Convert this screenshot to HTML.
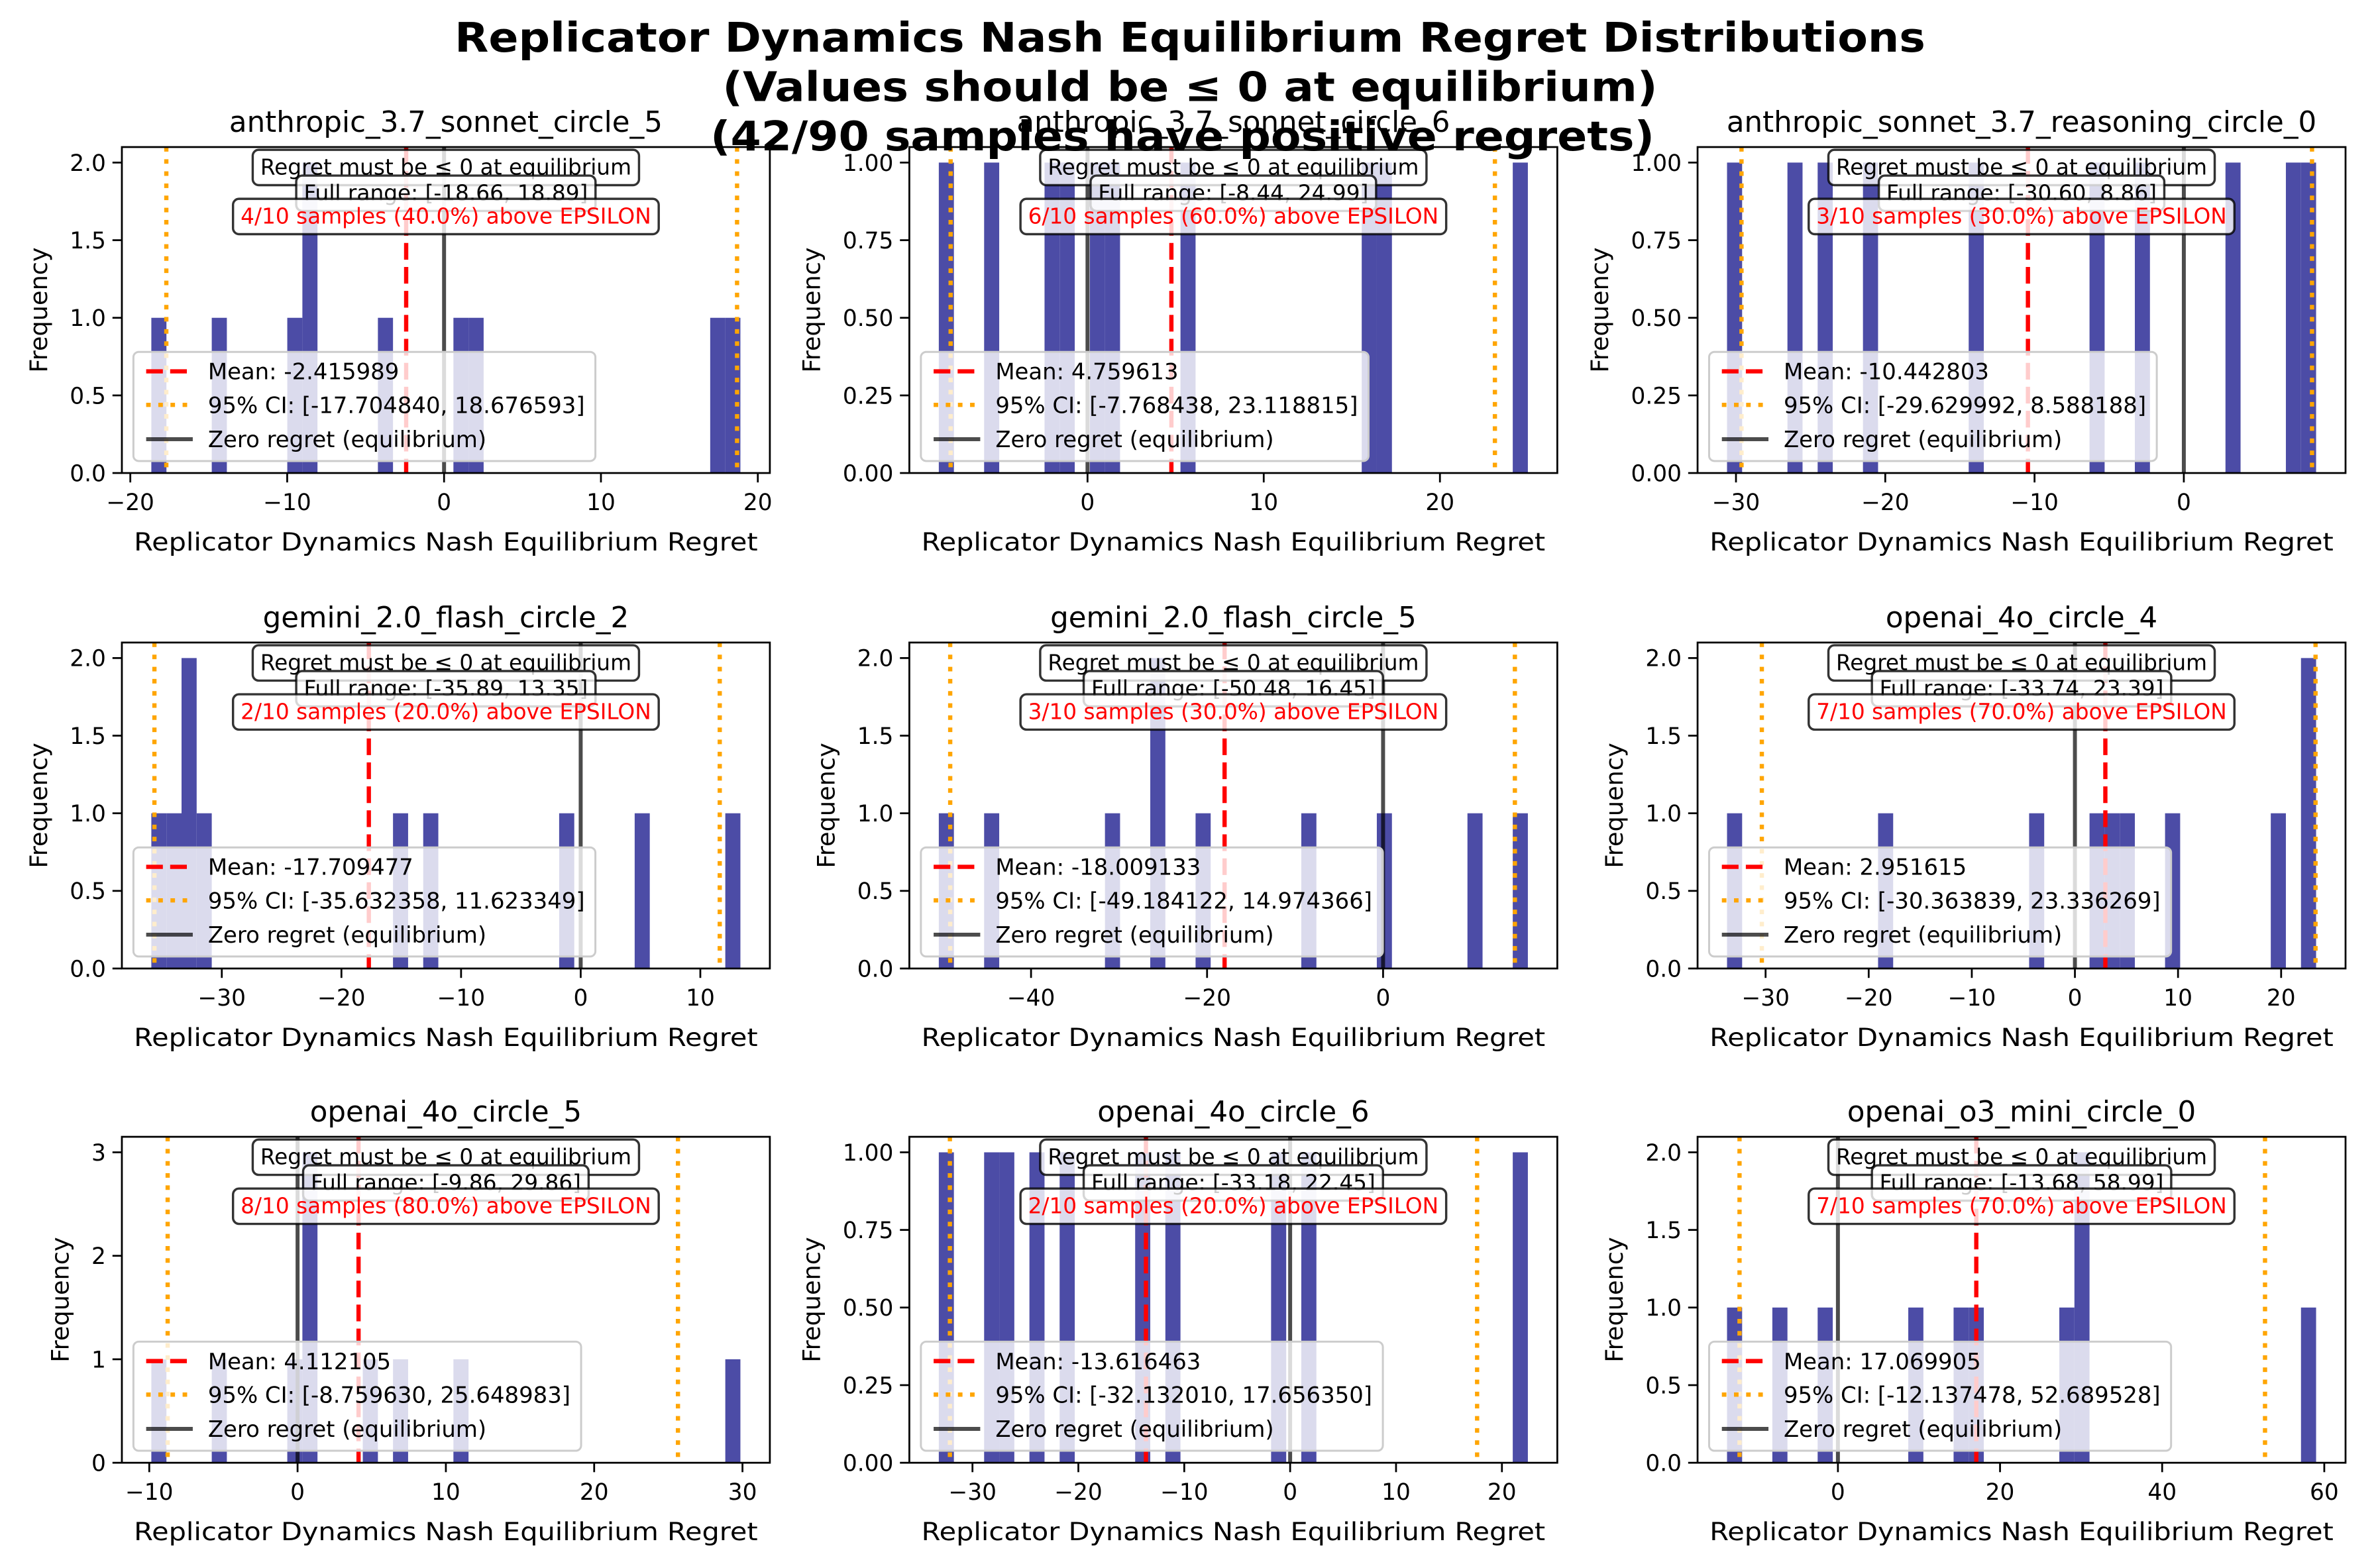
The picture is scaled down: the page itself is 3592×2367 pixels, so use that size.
<!DOCTYPE html>
<html><head><meta charset="utf-8"><style>
html,body{margin:0;padding:0;background:#fff;}
svg{display:block;font-family:"DejaVu Sans","Liberation Sans",sans-serif;}
</style></head><body>
<svg id="fig" width="3592" height="2367" viewBox="0 0 1568 1033.25" xmlns="http://www.w3.org/2000/svg">
<rect x="0" y="0" width="1568" height="1033.25" fill="#fff"/>
<g id="panels"></g>
<text x="784" y="34" text-anchor="middle" font-weight="bold" font-size="27" textLength="969" lengthAdjust="spacingAndGlyphs">Replicator Dynamics Nash Equilibrium Regret Distributions</text>
<text x="784" y="66.5" text-anchor="middle" font-weight="bold" font-size="27" textLength="616" lengthAdjust="spacingAndGlyphs">(Values should be ≤ 0 at equilibrium)</text>
<text x="779" y="99" text-anchor="middle" font-weight="bold" font-size="27" textLength="622" lengthAdjust="spacingAndGlyphs">(42/90 samples have positive regrets)</text>
</svg>
<script>
// ---- data ----
const titles = ["anthropic_3.7_sonnet_circle_5","anthropic_3.7_sonnet_circle_6","anthropic_sonnet_3.7_reasoning_circle_0","gemini_2.0_flash_circle_2","gemini_2.0_flash_circle_5","openai_4o_circle_4","openai_4o_circle_5","openai_4o_circle_6","openai_o3_mini_circle_0"];
const samples1 = [-18.66,-14.44,-9.57,-8.6,-8.6,-3.76,1.08,2.10,17.6,18.89];
const samples2 = [-8.44,-5.52,-2.04,-1.18,0.55,1.41,5.73,16.1,17.0,24.99];
const samples3 = [-30.60,-26.3,-24.26,-21.2,-14.07,-5.89,-2.83,3.34,7.42,8.86];
const samples4 = [-35.89,-34.4,-33.07,-33.07,-31.76,-15.2,-12.67,-1.2,5.15,13.35];
const samples5 = [-50.48,-44.9,-31.08,-25.85,-25.85,-20.67,-8.54,0.1,10.5,16.45];
const samples6 = [-33.74,-18.49,-3.76,2.12,3.63,5.14,9.55,19.88,23.39,23.39];
const samples7 = [-9.86,-5.33,0.1,0.83,0.83,0.83,4.96,7.0,11.17,29.86];
const samples8 = [-33.18,-28.37,-26.9,-24.06,-21.2,-13.98,-11.1,-1.08,1.79,22.45];
const samples9 = [-13.68,-7.19,-1.56,9.69,15.36,17.24,28.5,30.4,30.4,58.99];
const means = [-2.415989,4.759613,-10.442803,-17.709477,-18.009133,2.951615,4.112105,-13.616463,17.069905];
const ciLo = [-17.704840,-7.768438,-29.629992,-35.632358,-49.184122,-30.363839,-8.759630,-32.132010,-12.137478];
const ciHi = [18.676593,23.118815,8.588188,11.623349,14.974366,23.336269,25.648983,17.656350,52.689528];
const xTicks1 = [-20,-10,0,10,20];
const xTicks2 = [0,10,20];
const xTicks3 = [-30,-20,-10,0];
const xTicks4 = [-30,-20,-10,0,10];
const xTicks5 = [-40,-20,0];
const xTicks6 = [-30,-20,-10,0,10,20];
const xTicks7 = [-10,0,10,20,30];
const xTicks8 = [-30,-20,-10,0,10,20];
const xTicks9 = [0,20,40,60];
const yTicks1 = [0,0.5,1,1.5,2];
const yTicks2 = [0,0.25,0.5,0.75,1];
const yTicks3 = [0,0.25,0.5,0.75,1];
const yTicks4 = [0,0.5,1,1.5,2];
const yTicks5 = [0,0.5,1,1.5,2];
const yTicks6 = [0,0.5,1,1.5,2];
const yTicks7 = [0,1,2,3];
const yTicks8 = [0,0.25,0.5,0.75,1];
const yTicks9 = [0,0.5,1,1.5,2];
const yDecimals = [1,2,2,1,1,1,0,2,1];
const nBins = 39;
const epsilon = 1e-6;

const allSamples=[samples1,samples2,samples3,samples4,samples5,samples6,samples7,samples8,samples9];
const allX=[xTicks1,xTicks2,xTicks3,xTicks4,xTicks5,xTicks6,xTicks7,xTicks8,xTicks9];
const allY=[yTicks1,yTicks2,yTicks3,yTicks4,yTicks5,yTicks6,yTicks7,yTicks8,yTicks9];

// ---- layout ----
const NS="http://www.w3.org/2000/svg";
const colX=[80.3,599.1,1118.4], rowY=[96.9,423.4,749.1], AW=426.9, AH=214.8;
const root=document.getElementById('panels');
function mk(tag,attrs,parent){const e=document.createElementNS(NS,tag);for(const k in attrs)e.setAttribute(k,attrs[k]);(parent||root).appendChild(e);return e;}
function fmtTick(v,d){const s=Math.abs(v).toFixed(d);return (v<0?"\u2212":"")+s;}

for(let p=0;p<9;p++){
  const L=colX[p%3], T=rowY[Math.floor(p/3)], B=T+AH, R=L+AW;
  const data=allSamples[p];
  const dmin=Math.min(...data), dmax=Math.max(...data);
  const lo=Math.min(dmin,ciLo[p],0), hi=Math.max(dmax,ciHi[p],0);
  const xl=lo-0.05*(hi-lo), xh=hi+0.05*(hi-lo);
  const bw=(dmax-dmin)/nBins;
  const counts=new Array(nBins).fill(0);
  data.forEach(v=>{let i=Math.floor((v-dmin)/bw);if(i>=nBins)i=nBins-1;if(i<0)i=0;counts[i]++;});
  const ymax=Math.max(...counts)*1.05;
  const X=v=>L+(v-xl)/(xh-xl)*AW;
  const Y=v=>B-v/ymax*AH;
  const g=mk('g',{});
  
  
  const clipId='clip'+p;
  const cp=mk('clipPath',{id:clipId},g); mk('rect',{x:L,y:T,width:AW,height:AH},cp);
  const plot=mk('g',{'clip-path':'url(#'+clipId+')'},g);
  counts.forEach((c,i)=>{ if(!c) return;
    const x0=X(dmin+i*bw), x1=X(dmin+(i+1)*bw);
    const r=mk('rect',{x:x0,y:Y(c),width:x1-x0,height:B-Y(c),fill:'#4c4ca6'},plot);
    
    
  });
  const ml=mk('line',{x1:X(means[p]),x2:X(means[p]),y1:T,y2:B,stroke:'#ff0000','stroke-width':2.8,'stroke-dasharray':'11 4.8'},plot);
   
  [ciLo[p],ciHi[p]].forEach(v=>{
    const cl=mk('line',{x1:X(v),x2:X(v),y1:T,y2:B,stroke:'#ffa500','stroke-width':2.8,'stroke-dasharray':'3 5'},plot);
     
  });
  const zl=mk('line',{x1:X(0),x2:X(0),y1:T,y2:B,stroke:'#000','stroke-opacity':0.7,'stroke-width':2.6},plot);
   
  const sp=mk('rect',{x:L,y:T,width:AW,height:AH,fill:'none',stroke:'#000','stroke-width':1.2},g);
   
  allX[p].forEach(v=>{
    const x=X(v);
    mk('line',{x1:x,x2:x,y1:B,y2:B+6.2,stroke:'#000','stroke-width':1.2},g);
    const t=mk('text',{x:x,y:B+24.5,'text-anchor':'middle','font-size':15},g);
    t.textContent=fmtTick(v,0);
     
  });
  let maxW=0;
  allY[p].forEach(v=>{
    const y=Y(v);
    mk('line',{x1:L-6.2,x2:L,y1:y,y2:y,stroke:'#000','stroke-width':1.2},g);
    const t=mk('text',{x:L-10.5,y:y+5.4,'text-anchor':'end','font-size':15},g);
    t.textContent=fmtTick(v,yDecimals[p]);
     
    maxW=Math.max(maxW,t.getComputedTextLength());
  });
  const yl=L-10.5-maxW-15;
  const ylab=mk('text',{x:yl,y:T+AH/2,'text-anchor':'middle','font-size':16,transform:'rotate(-90 '+yl+' '+(T+AH/2)+')'},g);
  ylab.textContent='Frequency';
   
  const xlab=mk('text',{x:L+AW/2,y:B+51,'text-anchor':'middle','font-size':16.5,textLength:411,lengthAdjust:'spacingAndGlyphs'},g);
  xlab.textContent='Replicator Dynamics Nash Equilibrium Regret';
   
  const tt=mk('text',{x:L+AW/2,y:T-10,'text-anchor':'middle','font-size':19},g);
  tt.textContent=titles[p];
   
  const lg=mk('g',{},g);
   
  const lbox=mk('rect',{x:L+7.6,y:B-79.8,width:300,height:71.9,rx:3.5,fill:'#fff','fill-opacity':0.8,stroke:'#cccccc','stroke-width':1.3},lg);
  const labels=['Mean: '+means[p].toFixed(6),'95% CI: ['+ciLo[p].toFixed(6)+', '+ciHi[p].toFixed(6)+']','Zero regret (equilibrium)'];
  const rows=[B-67,B-44.9,B-22.3];
  let lw=0;
  labels.forEach((s,i)=>{
    const yy=rows[i];
    if(i==0) mk('line',{x1:L+16,x2:L+46.7,y1:yy,y2:yy,stroke:'#ff0000','stroke-width':2.8,'stroke-dasharray':'11 4.8'},lg);
    if(i==1) mk('line',{x1:L+16,x2:L+46.7,y1:yy,y2:yy,stroke:'#ffa500','stroke-width':2.8,'stroke-dasharray':'3 5'},lg);
    if(i==2) mk('line',{x1:L+16,x2:L+46.7,y1:yy,y2:yy,stroke:'#000','stroke-opacity':0.7,'stroke-width':2.6},lg);
    const t=mk('text',{x:L+56.7,y:yy+5.3,'font-size':14.8},lg);
    t.textContent=s;
     
    lw=Math.max(lw,t.getComputedTextLength());
  });
  lbox.setAttribute('width',56.7+lw+7-7.6);
  const npos=data.filter(v=>v>epsilon).length;
  const boxTexts=['Regret must be \u2264 0 at equilibrium','Full range: ['+dmin.toFixed(2)+', '+dmax.toFixed(2)+']',npos+'/'+data.length+' samples ('+(100*npos/data.length).toFixed(1)+'%) above EPSILON'];
  const boxTop=[T+1.8,T+18.8,T+34.1];
  const boxNames=['equilibrium-note-box','full-range-box','positive-count-box'];
  boxTexts.forEach((s,i)=>{
    const bg=mk('g',{},g);
     
    const r=mk('rect',{x:0,y:boxTop[i],height:23.3,rx:4,fill:'#fff','fill-opacity':0.8,stroke:'#000','stroke-opacity':0.8,'stroke-width':1.5},bg);
    const t=mk('text',{x:L+AW/2,y:boxTop[i]+16.4,'text-anchor':'middle','font-size':14.3,fill:i==2?'#ff0000':'#000'},bg);
    t.textContent=s;
    const w=t.getComputedTextLength()+10;
    r.setAttribute('x',L+AW/2-w/2); r.setAttribute('width',w);
  });
}
</script>
</body></html>
